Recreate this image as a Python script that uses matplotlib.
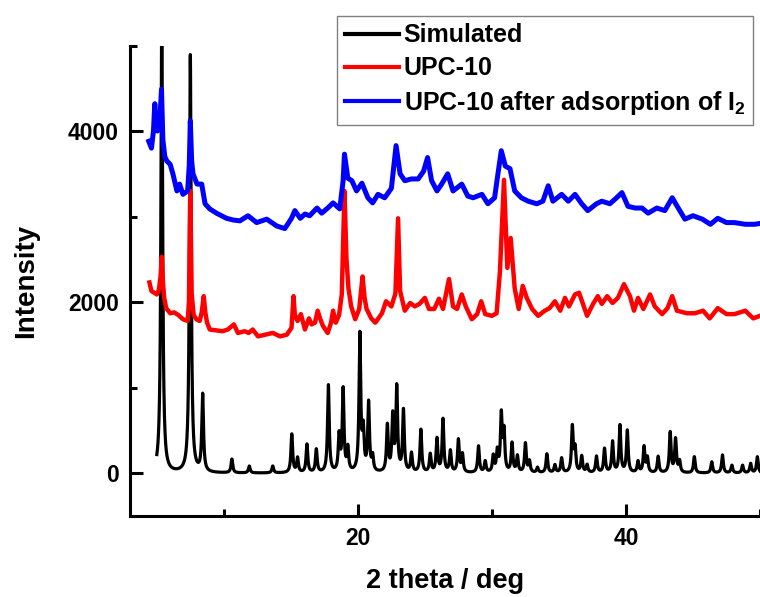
import numpy as np
import matplotlib
matplotlib.use("Agg")
import matplotlib.pyplot as plt

plt.rcParams['font.family'] = ['Liberation Sans', 'DejaVu Sans']
plt.rcParams['font.weight'] = 'bold'
plt.rcParams['mathtext.fontset'] = 'custom'
plt.rcParams['mathtext.rm'] = 'Liberation Sans:bold'
plt.rcParams['mathtext.bf'] = 'Liberation Sans:bold'

# Simulated pattern: reflection positions (2 theta, deg) and intensities
sim_pos = [5.37, 7.5, 8.42, 10.6, 11.9, 13.65, 15.07, 15.5, 16.2, 16.9,
           17.8, 18.6, 18.9, 19.25, 20.15, 20.4, 20.8, 21.1, 22.2, 22.6,
           22.9, 23.4, 24.0, 24.7, 25.4, 25.9, 26.35, 26.9, 27.5, 27.8,
           29.0, 29.5, 30.1, 30.4, 30.7, 30.9, 31.5, 31.9, 32.5, 32.8,
           33.4, 34.1, 34.7, 35.2, 36.0, 36.2, 36.7, 37.1, 37.8, 38.4,
           39.0, 39.55, 40.1, 40.9, 41.35, 41.6, 42.4, 43.3, 43.7, 44.0,
           45.1, 46.4, 47.2, 47.9, 48.7, 49.3, 49.8]
sim_int = [5400, 4880, 900, 160, 80, 80, 450, 170, 330, 270,
           1020, 420, 960, 270, 1600, 450, 800, 170, 540, 640,
           980, 720, 220, 500, 210, 390, 620, 250, 380, 210,
           310, 130, 190, 240, 660, 460, 340, 190, 340, 130,
           60, 220, 90, 170, 530, 270, 190, 90, 190, 280,
           360, 550, 490, 130, 300, 170, 190, 470, 390, 130,
           190, 130, 210, 90, 90, 110, 190]

# UPC-10 as-synthesized (offset trace)
upc_x = [4.45, 4.6, 4.8, 5.0, 5.15, 5.28, 5.37, 5.45, 5.55, 5.7, 6.0, 6.3, 6.6,
         6.95, 7.3, 7.4, 7.5, 7.6, 7.75, 7.95, 8.2, 8.35, 8.5, 8.62, 8.75, 8.95,
         9.4, 9.9, 10.3, 10.6, 10.75, 11.05, 11.55, 11.85, 12.15, 12.55, 13.1,
         13.65, 14.2, 14.7, 15.05, 15.2, 15.3, 15.5, 15.75, 16.05, 16.35, 16.55,
         16.8, 17.0, 17.2, 17.4, 17.75, 18.0, 18.15, 18.35, 18.6, 18.8, 19.0,
         19.15, 19.3, 19.5, 19.8, 20.1, 20.35, 20.5, 20.65, 21.0, 21.3, 21.8,
         22.1, 22.5, 22.8, 23.0, 23.15, 23.5, 23.9, 24.25, 24.6, 25.0, 25.3,
         25.7, 26.05, 26.35, 26.8, 27.1, 27.4, 27.75, 28.05, 28.5, 28.9, 29.2,
         29.5, 30.0, 30.35, 30.6, 30.9, 31.15, 31.4, 31.7, 32.0, 32.3, 32.6,
         33.0, 33.45, 33.95, 34.3, 34.7, 35.1, 35.45, 35.75, 36.2, 36.5, 37.1,
         37.55, 37.9, 38.2, 38.6, 39.0, 39.4, 39.85, 40.3, 40.6, 40.9, 41.3,
         41.8, 42.15, 42.7, 43.1, 43.45, 43.8, 44.55, 45.15, 45.75, 46.25,
         46.85, 47.5, 48.1, 48.9, 49.5, 50.0]
upc_y = [2230, 2130, 2110, 2090, 2140, 2300, 2530, 2250, 2050, 1930, 1870, 1880, 1850,
         1800, 1780, 2000, 3300, 2100, 1850, 1800, 1780, 1880, 2070, 1880, 1760, 1680,
         1670, 1660, 1680, 1720, 1740, 1640, 1660, 1640, 1680, 1600, 1620,
         1640, 1600, 1620, 1700, 2070, 1850, 1780, 1860, 1680, 1810, 1740,
         1760, 1900, 1800, 1720, 1640, 1760, 1900, 1760, 1850, 2090, 3300,
         2500, 2160, 1950, 1800, 1920, 2300, 2050, 1920, 1810, 1760, 1870,
         2010, 1950, 2100, 2980, 2130, 1900, 1990, 1950, 1980, 2050, 1920,
         1920, 2040, 1920, 2270, 1950, 1920, 2090, 1950, 1800, 1860, 2010,
         1860, 1840, 1870, 2360, 3430, 2400, 2750, 2160, 1920, 2190, 2050,
         1920, 1840, 1900, 1930, 2010, 1900, 2050, 1950, 2090, 2110, 1840,
         1980, 2070, 1980, 2070, 1990, 2050, 2210, 2070, 1900, 2050, 1920,
         2090, 1950, 1860, 1930, 2070, 1900, 1870, 1870, 1900, 1810,
         1930, 1860, 1860, 1900, 1810, 1840]

# UPC-10 after iodine uptake (offset trace)
upci_x = [4.4, 4.6, 4.75, 4.85, 4.95, 5.05, 5.25, 5.35, 5.45, 5.6, 5.75, 6.0, 6.2,
          6.5, 6.7, 6.95, 7.3, 7.42, 7.5, 7.6, 7.7, 8.0, 8.35, 8.6, 8.95, 9.45,
          10.2, 10.7, 11.2, 11.8, 12.45, 13.2, 13.95, 14.55, 15.05, 15.3, 15.7,
          16.05, 16.4, 16.95, 17.3, 17.75, 18.15, 18.65, 18.9, 19.0, 19.25,
          19.55, 19.9, 20.3, 20.75, 21.1, 21.5, 22.0, 22.5, 22.85, 23.15, 23.5,
          24.0, 24.5, 24.9, 25.2, 25.5, 25.9, 26.25, 26.7, 27.1, 27.75, 28.2,
          28.6, 29.25, 29.7, 30.2, 30.45, 30.7, 31.0, 31.35, 31.7, 32.2, 32.7,
          33.35, 33.8, 34.2, 34.55, 35.2, 35.7, 36.2, 36.7, 37.15, 37.8, 38.2,
          38.8, 39.3, 39.7, 40.15, 40.7, 41.2, 41.65, 42.3, 42.9, 43.45, 43.9,
          44.4, 45.0, 45.7, 46.3, 46.85, 47.5, 48.1, 48.9, 49.6, 50.0]
upci_y = [3880, 3800, 4000, 4320, 4100, 4000, 4200, 4490, 3900, 3700, 3650, 3610, 3500,
          3300, 3380, 3260, 3300, 3600, 4120, 3650, 3500, 3380, 3380, 3150, 3090, 3040,
          2980, 2960, 2950, 3010, 2930, 2970, 2890, 2860, 2980, 3070, 2980,
          3030, 3010, 3100, 3040, 3100, 3160, 3090, 3420, 3730, 3450,
          3420, 3300, 3390, 3220, 3160, 3260, 3220, 3330, 3830, 3500, 3420,
          3440, 3440, 3530, 3690, 3420, 3300, 3380, 3500, 3300, 3380, 3240,
          3220, 3260, 3150, 3220, 3500, 3770, 3590, 3560, 3300, 3220, 3180,
          3150, 3180, 3360, 3180, 3260, 3180, 3260, 3150, 3070, 3150, 3180,
          3150, 3220, 3280, 3120, 3100, 3100, 3040, 3100, 3070, 3220, 3100,
          2970, 3010, 2970, 2910, 2980, 2930, 2930, 2910, 2910, 2920]

labels = ['Simulated', 'UPC-10', r'UPC-10 after adsorption of I$_\mathbf{2}$']
colors = ['black', '#ff0000', '#0000ff']


def simulated_profile(two_theta, positions, heights, hwhm=0.075):
    """Lorentzian line profile for a list of reflections."""
    y = np.zeros_like(two_theta)
    for p, h in zip(positions, heights):
        y += h * hwhm ** 2 / ((two_theta - p) ** 2 + hwhm ** 2)
    return y


fig = plt.figure(figsize=(7.6, 5.97), dpi=100)
ax = fig.add_axes([130 / 760, 81 / 597, 630 / 760, 470.5 / 597])

tt = np.arange(5.0, 50.0001, 0.005)
ax.plot(tt, simulated_profile(tt, sim_pos, sim_int), color=colors[0],
        linewidth=2.3, label=labels[0], solid_joinstyle='round')
ax.plot(upc_x, upc_y, color=colors[1], linewidth=3.2, label=labels[1],
        solid_joinstyle='round')
ax.plot(upci_x, upci_y, color=colors[2], linewidth=3.6, label=labels[2],
        solid_joinstyle='round')

ax.set_xlim(3, 50)
ax.set_ylim(-500, 5000)
ax.set_xticks([20, 40])
ax.set_xticks([10, 30, 50], minor=True)
ax.set_yticks([0, 2000, 4000])
ax.set_yticks([1000, 3000, 5000], minor=True)

for side in ['top', 'right']:
    ax.spines[side].set_visible(False)
for side in ['left', 'bottom']:
    ax.spines[side].set_linewidth(2.2)

ax.tick_params(which='major', direction='in', length=9, width=2.2,
               labelsize=16.5, pad=8)
ax.tick_params(which='minor', direction='in', length=5, width=2.2)
for t in ax.get_xticklabels() + ax.get_yticklabels():
    t.set_fontweight('bold')

ax.set_xlabel('2 theta / deg', fontsize=19.5, fontweight='bold', labelpad=13)
ax.set_ylabel('Intensity', fontsize=20, fontweight='bold', labelpad=21)

leg = fig.legend(loc='upper right', bbox_to_anchor=(753 / 760, 1 - 16 / 597),
                 frameon=True, fancybox=False, framealpha=1,
                 edgecolor='#808080', fontsize=18, handlelength=2.15,
                 handletextpad=0.2, labelspacing=0.35, borderpad=0.3,
                 borderaxespad=0)
leg.get_frame().set_linewidth(1.0)
for line in leg.get_lines():
    line.set_linewidth(3)
for text in leg.get_texts():
    text.set_fontweight('bold')

fig.savefig('out.png', dpi=100)
